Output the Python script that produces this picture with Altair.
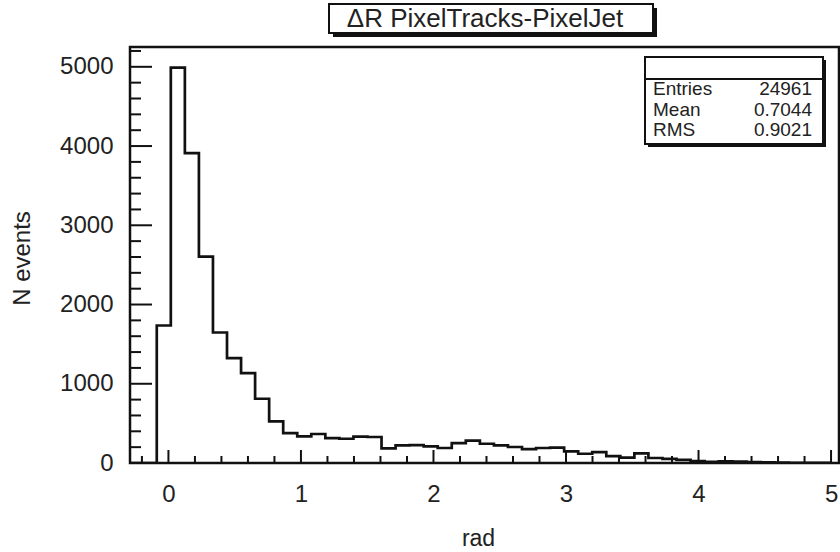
import altair as alt
import pandas as pd

# ---- data ----
bin_low = -0.3          # lower edge of first bin
bin_width = 0.106       # 50 bins over [-0.3, 5.0]
counts = [0, 0, 1735, 4990, 3910, 2605, 1647, 1324, 1135, 811,
          525, 378, 336, 366, 315, 306, 332, 328, 185, 222,
          225, 210, 189, 252, 283, 243, 222, 202, 176, 189,
          195, 146, 117, 136, 88, 68, 122, 63, 52, 40,
          25, 14, 22, 18, 10, 9, 5, 2, 1, 1]

x_major = [0, 1, 2, 3, 4, 5]
x_minor = [round(k * 0.2, 1) for k in range(-1, 26) if k % 5 != 0]
y_major = [0, 1000, 2000, 3000, 4000, 5000]
y_minor = [k * 200 for k in range(1, 27) if k % 5 != 0]

stats_names = ["Entries", "Mean", "RMS"]
stats_values = ["24961", "0.7044", "0.9021"]
title_text = "\u0394R PixelTracks-PixelJet"
x_title = "rad"
y_title = "N events"

# ---- layout ----
W, H = 709, 416
FONT = "Liberation Sans"
INK = "#111111"
TXT = "#222222"

edges = [bin_low + bin_width * i for i in range(len(counts) + 1)]
hist = pd.DataFrame({"x": edges, "n": counts + [counts[-1]]})

xs = alt.Scale(domain=[-0.29, 5.06], nice=False, zero=False)
ys = alt.Scale(domain=[0, 5250], nice=False, zero=False)

x_axis = alt.Axis(
    values=x_major, format="d", grid=False, domain=False, ticks=False, tickSize=0,
    labelFont=FONT, labelFontSize=24, labelColor=TXT, labelPadding=19,
    title=x_title, titleFont=FONT, titleFontSize=23, titleFontWeight="normal",
    titleColor=TXT, titleX=348, titleY=82, titleAlign="center",
    titleBaseline="alphabetic")
y_axis = alt.Axis(
    values=y_major, format="d", grid=False, domain=False, ticks=False, tickSize=0,
    labelFont=FONT, labelFontSize=24, labelColor=TXT, labelPadding=17,
    title=y_title, titleFont=FONT, titleFontSize=24, titleFontWeight="normal",
    titleColor=TXT, titleX=-108, titleY=211, titleAngle=270,
    titleAlign="center", titleBaseline="middle")

line = alt.Chart(hist).mark_line(
    interpolate="step-after", color=INK, strokeWidth=2.7, clip=True
).encode(
    x=alt.X("x:Q", scale=xs, axis=x_axis),
    y=alt.Y("n:Q", scale=ys, axis=y_axis),
)

def xticks(vals, length):
    return alt.Chart(pd.DataFrame({"x": vals})).mark_rule(color=INK, strokeWidth=2).encode(
        x=alt.X("x:Q", scale=xs, axis=x_axis),
        y=alt.value(H), y2=alt.value(H - length))

def yticks(vals, length):
    return alt.Chart(pd.DataFrame({"n": vals})).mark_rule(color=INK, strokeWidth=2).encode(
        y=alt.Y("n:Q", scale=ys, axis=y_axis),
        x=alt.value(0), x2=alt.value(length))

one = pd.DataFrame({"k": [0]})

# title box with shadow
title_shadow = alt.Chart(one).mark_rect(color=INK).encode(
    x=alt.value(203), x2=alt.value(527), y=alt.value(-39), y2=alt.value(-10))
title_box = alt.Chart(one).mark_rect(fill="white", stroke=INK, strokeWidth=2).encode(
    x=alt.value(199), x2=alt.value(523), y=alt.value(-43), y2=alt.value(-14))
title_lbl = alt.Chart(pd.DataFrame({"t": [title_text]})).mark_text(
    font=FONT, fontSize=26, color=TXT, align="center", baseline="middle"
).encode(text="t:N", x=alt.value(355), y=alt.value(-28))

# stats box
stats_shadow = alt.Chart(one).mark_rect(color=INK).encode(
    x=alt.value(518), x2=alt.value(696), y=alt.value(13), y2=alt.value(100))
stats_box = alt.Chart(one).mark_rect(fill="white", stroke=INK, strokeWidth=2).encode(
    x=alt.value(515), x2=alt.value(693), y=alt.value(10), y2=alt.value(97))
stats_line = alt.Chart(one).mark_rule(color=INK, strokeWidth=2).encode(
    x=alt.value(515), x2=alt.value(693), y=alt.value(32))
stats_df = pd.DataFrame({"names": ["\n".join(stats_names)],
                         "vals": ["\n".join(stats_values)]})
stats_names_txt = alt.Chart(stats_df).mark_text(
    font=FONT, fontSize=19, color=TXT, align="left", baseline="middle",
    lineBreak="\n", lineHeight=20.7
).encode(text="names:N", x=alt.value(523), y=alt.value(42))
stats_vals_txt = alt.Chart(stats_df).mark_text(
    font=FONT, fontSize=19, color=TXT, align="right", baseline="middle",
    lineBreak="\n", lineHeight=20.7
).encode(text="vals:N", x=alt.value(682), y=alt.value(42))

chart = alt.layer(
    line,
    xticks(x_major, 13), xticks(x_minor, 7),
    yticks(y_major, 22), yticks(y_minor, 11),
    title_shadow, title_box, title_lbl,
    stats_shadow, stats_box, stats_line, stats_names_txt, stats_vals_txt,
).properties(
    width=W, height=H,
    padding={"left": 130, "top": 47, "right": 1, "bottom": 89},
    autosize=alt.AutoSizeParams(type="none"),
    background="white",
).configure_view(stroke=INK, strokeWidth=2.5)

chart.save("out.html", embed_options={"renderer": "svg", "actions": False})
